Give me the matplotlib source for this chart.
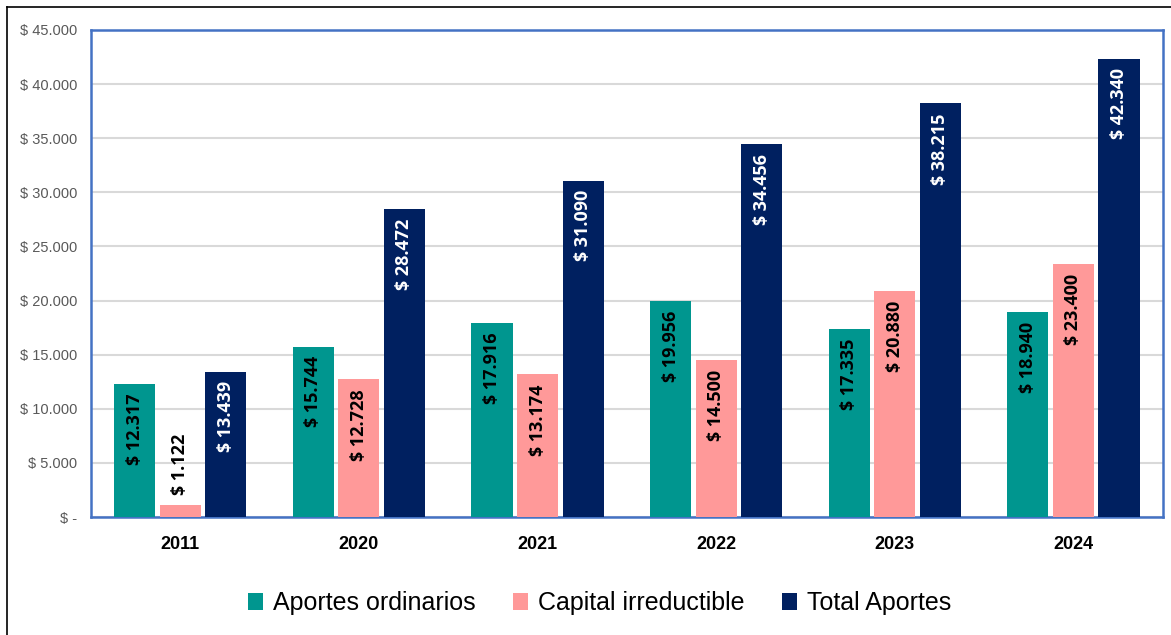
import numpy as np
import matplotlib
matplotlib.use('Agg')
import matplotlib.pyplot as plt
from matplotlib.lines import Line2D

years = ['2011', '2020', '2021', '2022', '2023', '2024']
aportes = [12317, 15744, 17916, 19956, 17335, 18940]
capital = [1122, 12728, 13174, 14500, 20880, 23400]
total = [13439, 28472, 31090, 34456, 38215, 42340]
series_names = ['Aportes ordinarios', 'Capital irreductible', 'Total Aportes']
colors = ['#00968F', '#FF9999', '#002060']
label_colors = ['black', 'black', 'white']


def money(v):
    if v == 0:
        return '$ -'
    return '$ ' + f'{int(v):,}'.replace(',', '.')


fig = plt.figure(figsize=(11.71, 6.35), dpi=100)
ax = fig.add_axes([0.0777, 0.1858, 0.9153, 0.767])

x = np.arange(len(years))
w = 0.23
step = 0.255
for k, vals in enumerate([aportes, capital, total]):
    xs = x + (k - 1) * step
    bars = ax.bar(xs, vals, w, color=colors[k], label=series_names[k], zorder=3)
    for b, v in zip(bars, vals):
        cx = b.get_x() + b.get_width() / 2
        if v < 5000:
            ax.annotate(money(v), (cx, v), xytext=(0, 7), textcoords='offset points',
                        rotation=90, ha='center', va='bottom', fontsize=13,
                        fontweight='bold', color='black', zorder=4, family='Open Sans')
        else:
            ax.annotate(money(v), (cx, v), xytext=(0, -7), textcoords='offset points',
                        rotation=90, ha='center', va='top', fontsize=13,
                        fontweight='bold', color=label_colors[k], zorder=4, family='Open Sans')

ax.set_xlim(-0.5, len(years) - 0.5)
ax.set_ylim(0, 45000)
ax.set_yticks(np.arange(0, 45001, 5000))
ax.set_yticklabels([money(v) for v in np.arange(0, 45001, 5000)], fontsize=10.5,
                   color='#595959', family='Liberation Sans')
ax.set_xticks(x)
ax.set_xticklabels(years, fontsize=13, fontweight='bold', family='Liberation Sans')
ax.tick_params(axis='both', length=0)
ax.tick_params(axis='x', pad=14)
ax.tick_params(axis='y', pad=10)
ax.yaxis.grid(True, color='#d9d9d9', linewidth=1.5, zorder=0)
for s in ax.spines.values():
    s.set_color('#4472C4')
    s.set_linewidth(1.8)

fig.legend(loc='center', bbox_to_anchor=(0.512, 0.05), ncol=3, frameon=False,
           prop={'family': 'Liberation Sans', 'size': 18}, handlelength=0.6,
           handleheight=0.7, handletextpad=0.4, columnspacing=1.5)

# outer frame lines (top and left)
fig.add_artist(Line2D([7 / 1171, 1], [1 - 7 / 635, 1 - 7 / 635], color='black', lw=1.2))
fig.add_artist(Line2D([7 / 1171, 7 / 1171], [0, 1 - 7 / 635], color='black', lw=1.2))

fig.savefig('out.png', dpi=100)
